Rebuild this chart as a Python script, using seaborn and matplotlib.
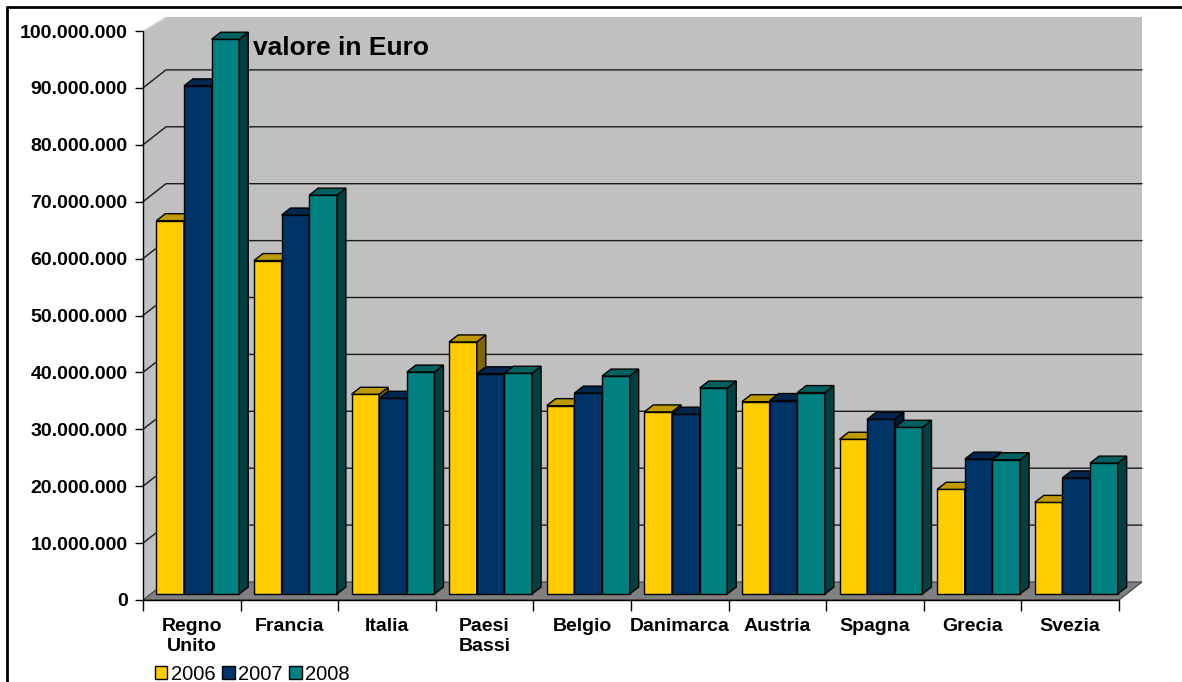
import numpy as np
import pandas as pd
import matplotlib
matplotlib.use("Agg")
import matplotlib.pyplot as plt
from matplotlib.patches import Polygon, Patch
from matplotlib.lines import Line2D
import seaborn as sns

# --- data -----------------------------------------------------------------
paesi = ["Regno\nUnito", "Francia", "Italia", "Paesi\nBassi", "Belgio",
         "Danimarca", "Austria", "Spagna", "Grecia", "Svezia"]
anni = ["2006", "2007", "2008"]
valori_2006 = [65.6e6, 58.6e6, 35.1e6, 44.3e6, 33.1e6, 32.0e6, 33.8e6, 27.2e6, 18.4e6, 16.1e6]
valori_2007 = [89.3e6, 66.6e6, 34.4e6, 38.7e6, 35.3e6, 31.6e6, 34.0e6, 30.7e6, 23.7e6, 20.4e6]
valori_2008 = [97.5e6, 70.1e6, 39.0e6, 38.8e6, 38.3e6, 36.2e6, 35.4e6, 29.3e6, 23.6e6, 23.0e6]
y_ticks = [0, 10e6, 20e6, 30e6, 40e6, 50e6, 60e6, 70e6, 80e6, 90e6, 100e6]

# --- styling --------------------------------------------------------------
front_cols = ["#FFCC00", "#003366", "#008080"]
top_cols = ["#BF9900", "#00264D", "#006060"]
side_cols = ["#806600", "#001A33", "#004040"]
wall_col = "#C0C0C0"
floor_col = "#808080"

sns.set_theme(style="white")
plt.rcParams["font.family"] = ["Liberation Sans", "DejaVu Sans"]
plt.rcParams["text.color"] = "black"
plt.rcParams["xtick.color"] = "black"
plt.rcParams["ytick.color"] = "black"
plt.rcParams["axes.labelcolor"] = "black"

W, H = 1182, 682
fig = plt.figure(figsize=(W / 100, H / 100), dpi=100)
x0_px, x1_px, y0_px, y1_px = 143, 1119, 600, 31
ax = fig.add_axes([x0_px / W, 1 - y0_px / H, (x1_px - x0_px) / W, (y0_px - y1_px) / H])
ax.set_facecolor("none")

df = pd.DataFrame({
    "paese": paesi * 3,
    "anno": np.repeat(anni, len(paesi)),
    "valore": valori_2006 + valori_2007 + valori_2008,
})

sns.barplot(data=df, x="paese", y="valore", hue="anno", palette=front_cols,
            width=0.85, edgecolor="black", linewidth=1.0, errorbar=None,
            legend=False, ax=ax, saturation=1)

ax.set_xlim(-0.5, len(paesi) - 0.5)
ax.set_ylim(0, 100e6)

# pixel -> data conversions for the depth effect
px_x = (x1_px - x0_px) / len(paesi)        # pixels per category
px_y = (y0_px - y1_px) / 100e6             # pixels per euro
wall_dx, wall_dy = 23 / px_x, 18 / px_y    # depth of the chart box
bar_sx, bar_sy = 6 / px_x, 6 / px_y        # bars sit slightly inside the box
bar_dx, bar_dy = 9 / px_x, 7 / px_y        # depth of each bar
n = len(paesi)
top = 100e6
wall_top = top + wall_dy - 4 / px_y

# walls and floor
back = Polygon([(-0.5 + wall_dx, wall_dy), (n - 0.5 + wall_dx, wall_dy),
                (n - 0.5 + wall_dx, wall_top), (-0.5 + wall_dx, wall_top)],
               closed=True, facecolor=wall_col, edgecolor="none", zorder=0.5, clip_on=False)
side = Polygon([(-0.5, 0), (-0.5 + wall_dx, wall_dy), (-0.5 + wall_dx, wall_top), (-0.5, top)],
               closed=True, facecolor=wall_col, edgecolor="none", zorder=0.6, clip_on=False)
floor = Polygon([(-0.5, 0), (n - 0.5, 0), (n - 0.5 + wall_dx, wall_dy), (-0.5 + wall_dx, wall_dy)],
                closed=True, facecolor=floor_col, edgecolor="#404040", linewidth=0.8,
                zorder=0.7, clip_on=False)
for p in (back, side, floor):
    ax.add_patch(p)
ax.plot([-0.5, -0.5 + wall_dx], [top, wall_top], color="#DDDDDD", lw=1.0,
        zorder=0.8, clip_on=False)

# gridlines on the side and back walls
for v in y_ticks[1:-1]:
    ax.plot([-0.5, -0.5 + wall_dx, n - 0.5 + wall_dx], [v, v + wall_dy, v + wall_dy],
            color="#1a1a1a", lw=1.0, zorder=0.9, clip_on=False, solid_joinstyle="miter")

# bars: shift into the box and add top / side faces
for j, cont in enumerate(ax.containers):
    for bar in cont:
        bar.set_x(bar.get_x() + bar_sx)
        bar.set_y(bar_sy)
        bar.set_zorder(10 + 2 * j)
        bar.set_clip_on(False)
        x, w, h = bar.get_x(), bar.get_width(), bar.get_height()
        yb, yt = bar_sy, bar_sy + h
        top_face = Polygon([(x, yt), (x + w, yt), (x + w + bar_dx, yt + bar_dy), (x + bar_dx, yt + bar_dy)],
                           closed=True, facecolor=top_cols[j], edgecolor="black", linewidth=1.0,
                           zorder=11 + 2 * j, clip_on=False, joinstyle="miter")
        side_face = Polygon([(x + w, yb), (x + w + bar_dx, yb + bar_dy), (x + w + bar_dx, yt + bar_dy), (x + w, yt)],
                            closed=True, facecolor=side_cols[j], edgecolor="black", linewidth=1.0,
                            zorder=11 + 2 * j, clip_on=False, joinstyle="miter")
        ax.add_patch(side_face)
        ax.add_patch(top_face)

# axes, ticks and labels
for s in ("top", "right"):
    ax.spines[s].set_visible(False)
for s in ("left", "bottom"):
    ax.spines[s].set_color("black")
    ax.spines[s].set_linewidth(1.0)
    ax.spines[s].set_zorder(1)

ax.set_yticks(y_ticks)
ax.set_yticklabels([f"{int(v):,}".replace(",", ".") for v in y_ticks],
                   fontsize=14, fontweight="bold")
ax.tick_params(axis="y", which="major", direction="out", length=6, width=1.0,
               color="black", pad=5, left=True)

ax.set_xticks(np.arange(-0.5, n, 1.0))
ax.set_xticklabels([])
ax.set_xticks(np.arange(n), labels=paesi, minor=True)
ax.tick_params(axis="x", which="major", direction="out", length=8, width=1.0,
               color="black", bottom=True)
ax.tick_params(axis="x", which="minor", length=0, pad=13)
for lab in ax.get_xticklabels(minor=True):
    lab.set_fontsize(14)
    lab.set_fontweight("bold")
    lab.set_linespacing(1.25)
    lab.set_verticalalignment("top")
ax.set_xlabel("")
ax.set_ylabel("")
ax.grid(False)

fig.text(253 / W, 1 - 48 / H, "valore in Euro", fontsize=19, fontweight="bold",
         ha="left", va="center")

handles = [Patch(facecolor=c, edgecolor="black", linewidth=1.0) for c in front_cols]
fig.legend(handles, anni, loc="center left", bbox_to_anchor=(155 / W, 1 - 674 / H),
           ncol=3, frameon=False, fontsize=14.5, handlelength=0.62, handleheight=0.62,
           handletextpad=0.15, columnspacing=0.35, borderpad=0, borderaxespad=0)

# outer frame
fig.add_artist(Line2D([7 / W, 1], [1 - 7 / H, 1 - 7 / H], color="black", lw=2))
fig.add_artist(Line2D([7 / W, 7 / W], [0, 1 - 7 / H], color="black", lw=2))

fig.savefig("out.png", dpi=100, facecolor="white")
